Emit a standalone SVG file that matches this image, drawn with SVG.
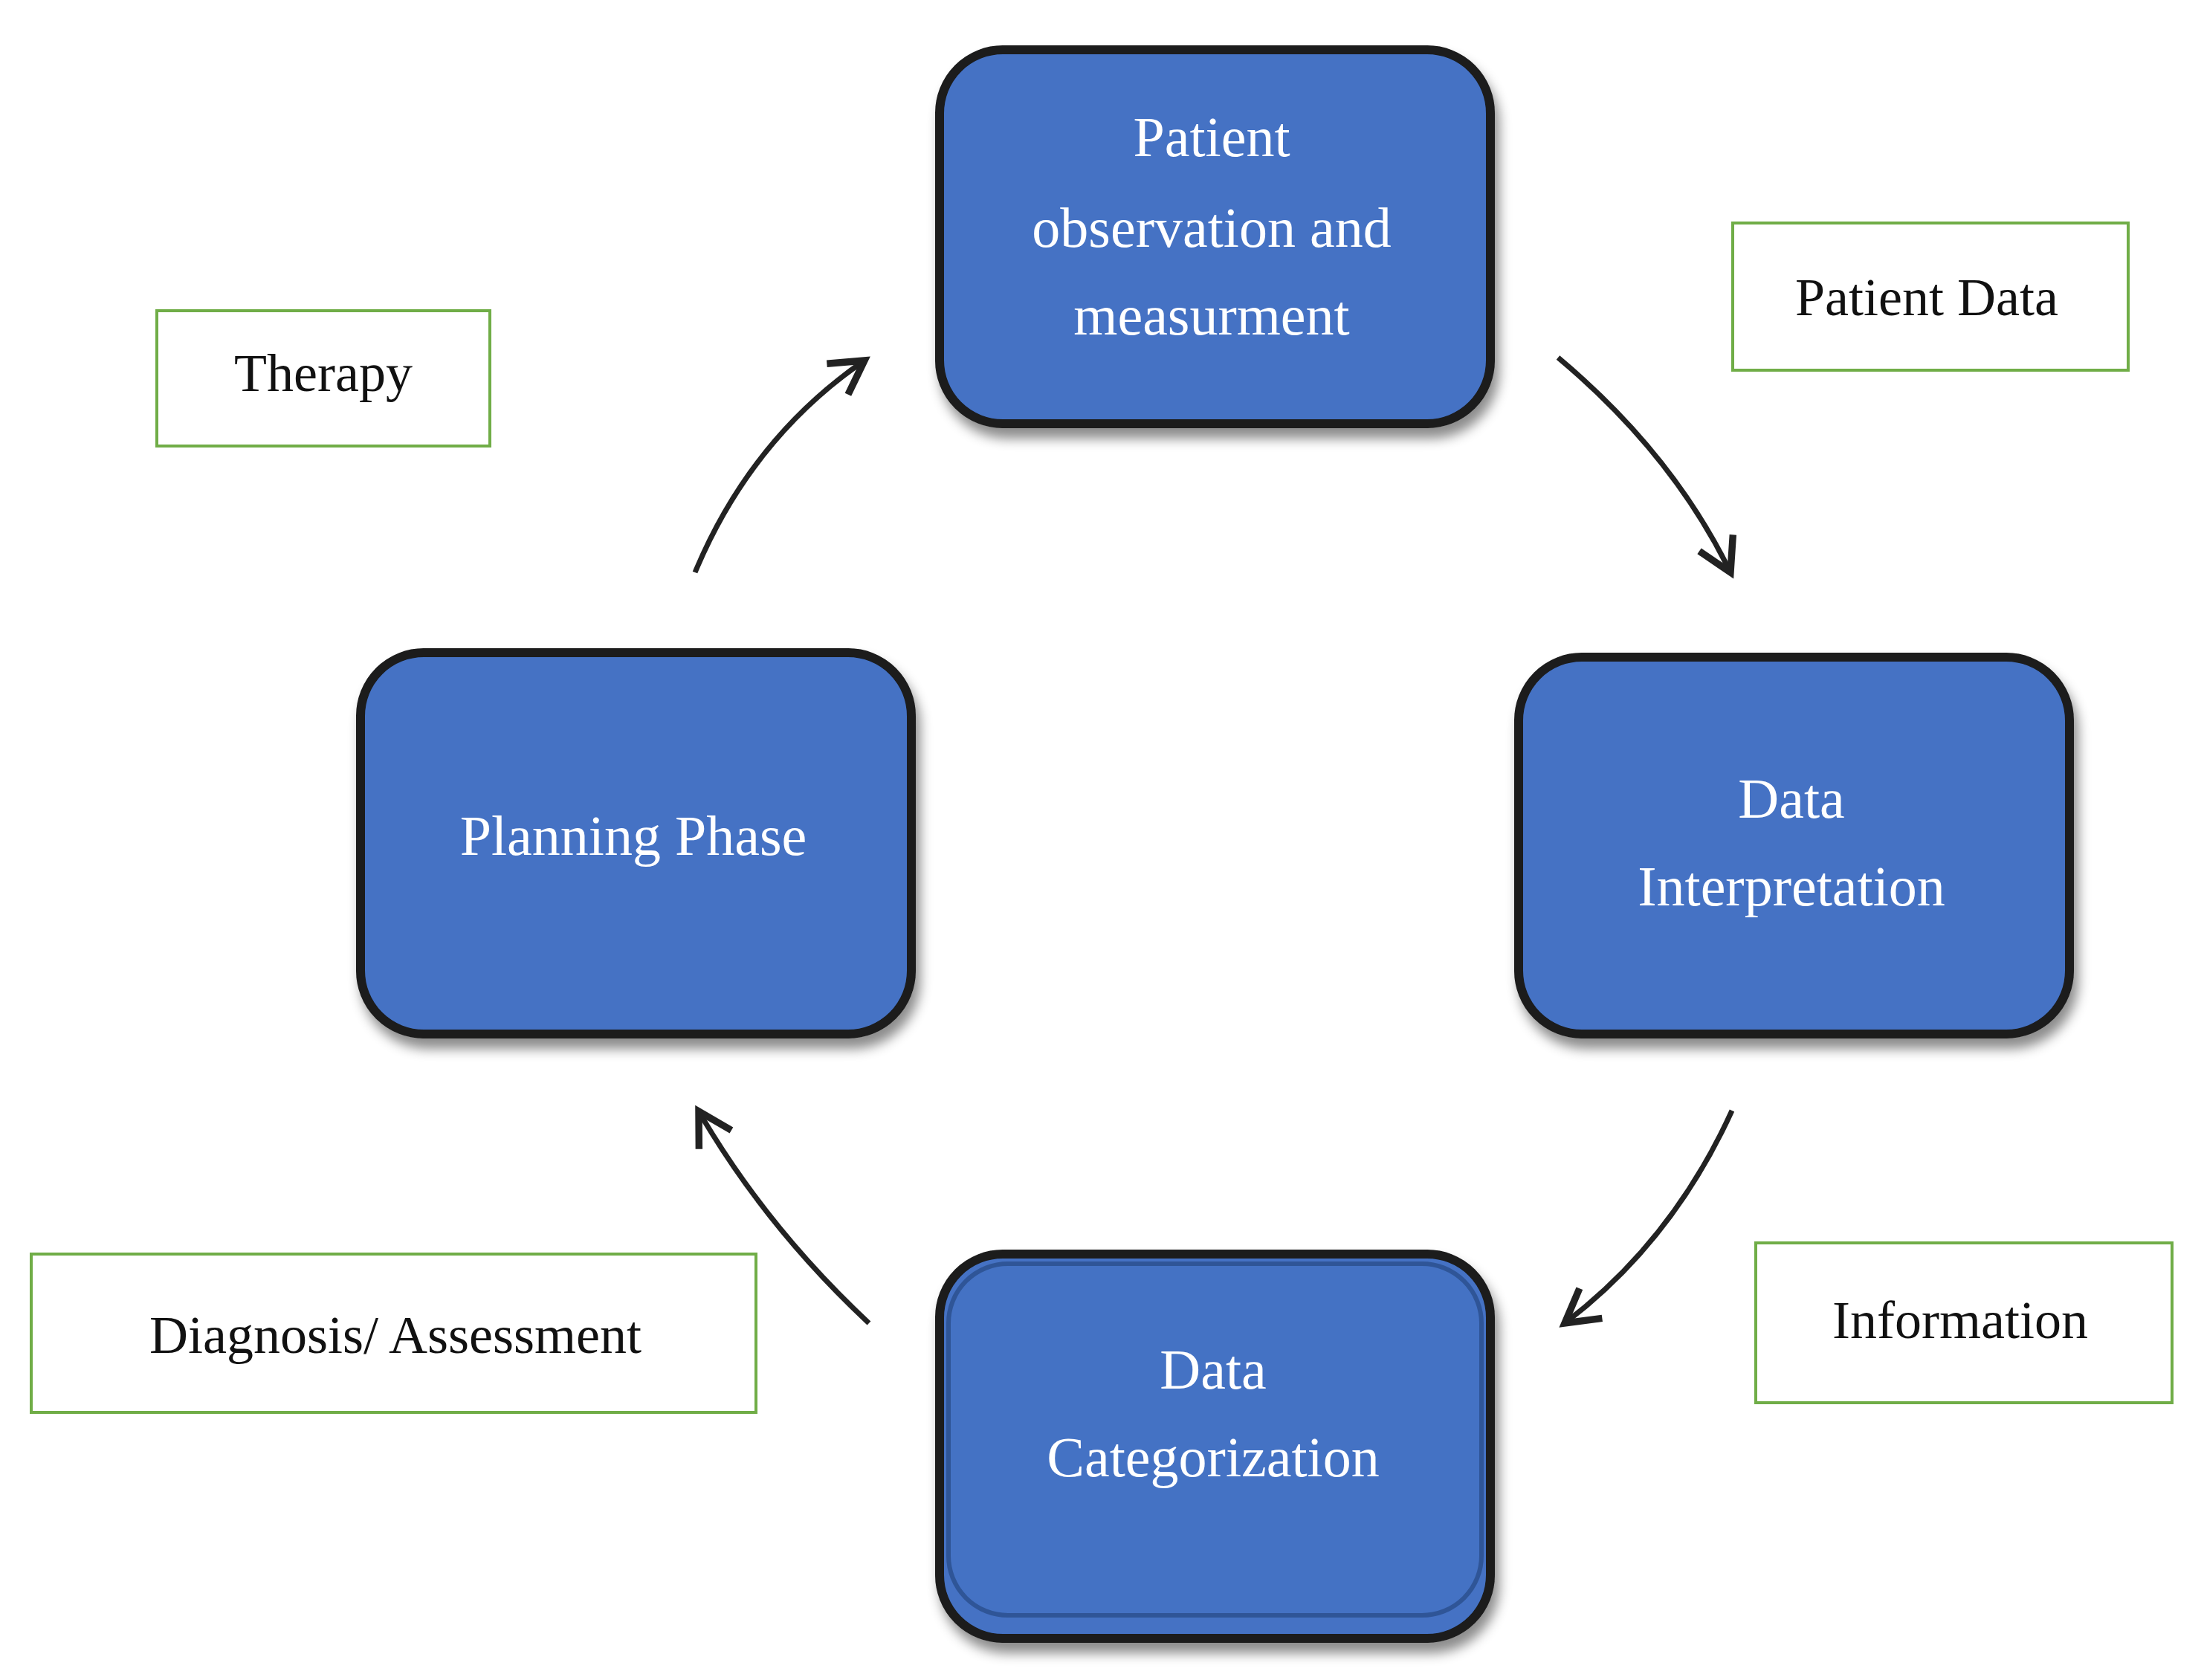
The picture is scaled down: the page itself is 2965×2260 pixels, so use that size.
<svg xmlns="http://www.w3.org/2000/svg" width="2965" height="2260" viewBox="0 0 2965 2260">
<style>
.node rect{fill:#4472C4;stroke:#1a1a1a;stroke-width:12;filter:url(#sh)}
.node text{fill:#fff;font-family:"Liberation Serif",serif;font-size:76px;text-anchor:middle}
.lab rect{fill:#fff;stroke:#70AD47;stroke-width:4}
.lab text{fill:#111;font-family:"Liberation Serif",serif;font-size:72px;text-anchor:middle}
.con path{fill:none;stroke:#222;stroke-width:7;marker-end:url(#ah)}
</style>
<defs>
<filter id="sh" x="-10%" y="-10%" width="125%" height="130%"><feDropShadow dx="6" dy="14" stdDeviation="8" flood-color="#000" flood-opacity="0.45"/></filter>
<marker id="ah" viewBox="0 0 20 20" refX="16" refY="10" markerWidth="9" markerHeight="9" orient="auto" markerUnits="strokeWidth"><path d="M2,2 L16,10 L2,18" fill="none" stroke="#222" stroke-width="3"/></marker>
</defs>
<rect width="2965" height="2260" fill="#fff"/>
<g class="con">
<path d="M935,770 Q1010,590 1163,485"/>
<path d="M2096,481 Q2250,610 2328,770"/>
<path d="M2330,1494 Q2250,1670 2105,1780"/>
<path d="M1169,1780 Q1030,1650 940,1495"/>
</g>
<g id="n1" class="node"><rect x="1264" y="67" width="741" height="503" rx="85"/>
<text x="1630" y="210">Patient</text><text x="1630" y="332">observation and</text><text x="1630" y="450">measurment</text></g>
<g id="n2" class="node"><rect x="2043" y="884" width="741" height="507" rx="85"/>
<text x="2410" y="1100">Data</text><text x="2410" y="1218">Interpretation</text></g>
<g id="n3" class="node"><rect x="1264" y="1687" width="741" height="517" rx="85"/>
<rect x="1276" y="1700" width="717" height="473" rx="80" style="stroke:#2f5597;stroke-width:6;filter:none"/>
<text x="1632" y="1868">Data</text><text x="1632" y="1986">Categorization</text></g>
<g id="n4" class="node"><rect x="485" y="878" width="741" height="513" rx="85"/>
<text x="852" y="1150">Planning Phase</text></g>
<g id="l1" class="lab"><rect x="211" y="418" width="448" height="182"/><text x="435" y="526">Therapy</text></g>
<g id="l2" class="lab"><rect x="2331" y="300" width="532" height="198"/><text x="2592" y="424">Patient Data</text></g>
<g id="l3" class="lab"><rect x="42" y="1687" width="975" height="213"/><text x="532" y="1820">Diagnosis/ Assessment</text></g>
<g id="l4" class="lab"><rect x="2362" y="1672" width="560" height="215"/><text x="2637" y="1800">Information</text></g>
</svg>
